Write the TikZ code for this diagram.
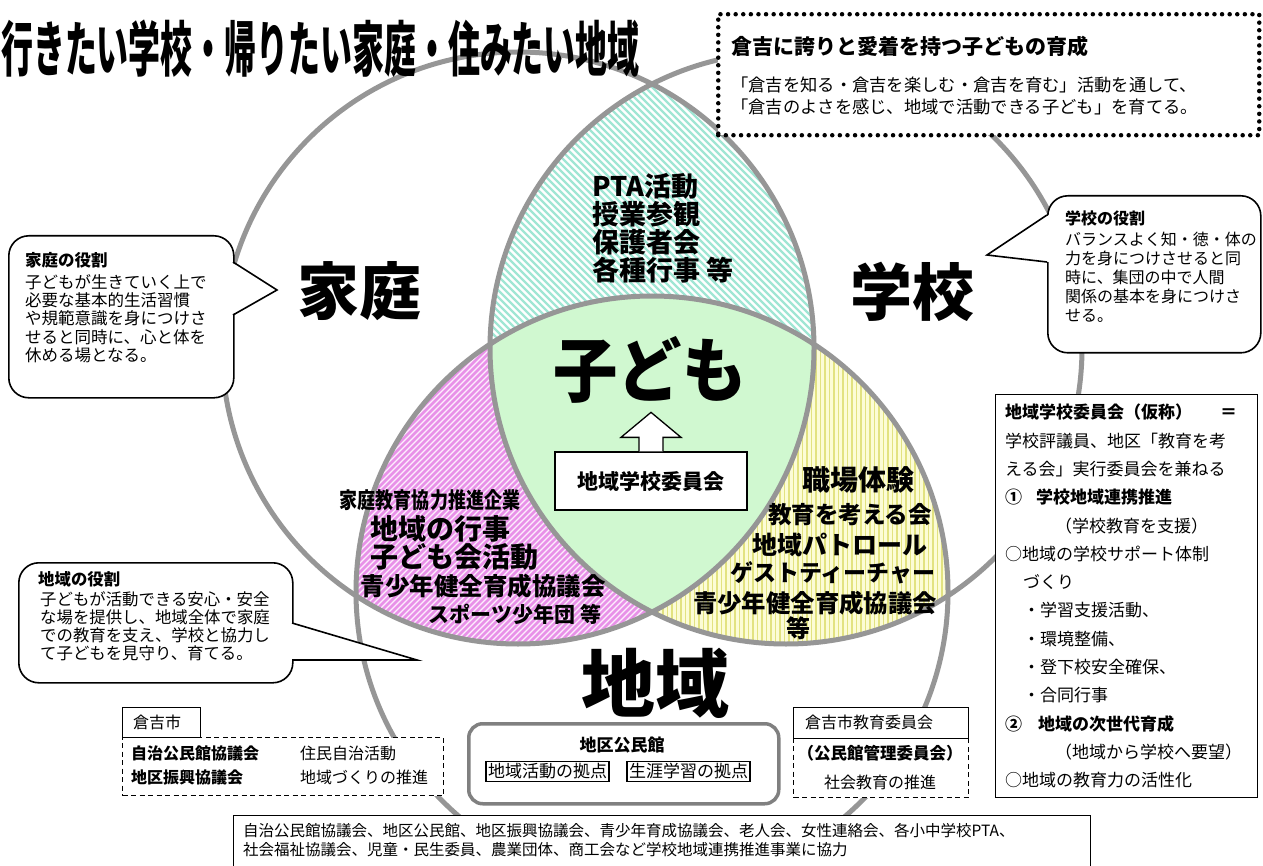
\documentclass[tikz,border=0pt]{standalone}
\usepackage{fontspec}
\usepackage{graphicx}
\setmainfont{Noto Sans CJK JP}
\usetikzlibrary{calc}
\newcommand{\fsz}[2]{\fontsize{#1}{#2}\selectfont}
\definecolor{ringc}{RGB}{150,150,150}
\definecolor{hallc}{RGB}{128,128,128}
\definecolor{topln}{RGB}{160,230,212}
\definecolor{pinkbg}{RGB}{253,238,253}
\definecolor{pinkln}{RGB}{232,145,232}
\definecolor{yelbg}{RGB}{252,252,214}
\definecolor{yelln}{RGB}{226,226,128}
\definecolor{kidc}{RGB}{208,248,208}
\tikzset{
  ring/.style={draw=ringc, line width=5pt},
  bubble/.style={draw=black, line width=1.6pt, fill=white, rounded corners=20pt},
  tailline/.style={draw=black, line width=1.6pt, line join=miter},
  plainbox/.style={draw=black, line width=1.3pt, fill=white},
  dashbox/.style={draw=black, line width=1.3pt, dash pattern=on 5pt off 3.5pt, fill=white},
  dotbox/.style={draw=black, line width=4.5pt, dash pattern=on 0pt off 7.6pt, line cap=round, fill=white},
  hallbox/.style={draw=hallc, line width=3.5pt, rounded corners=14pt, fill=white},
  lt/.style={inner sep=0pt, anchor=west},
  ct/.style={inner sep=0pt},
}
\begin{document}
\begin{tikzpicture}[x=1pt,y=-1pt]
\useasboundingbox (0,0) rectangle (1263,866);
\fill[white] (0,0) rectangle (1263,866);
\clip (0,0) rectangle (1263,866);

% ---------- Venn regions ----------
\begin{scope}
  \clip (518,348) circle[radius=296];
  \clip (786,348) circle[radius=296];
  \fill[white] (400,40) rectangle (900,660);
  \foreach \t in {100,107,...,860} \draw[topln, line width=2.2pt] (\t,60) -- ++(420,420);
\end{scope}
\begin{scope}
  \clip (518,348) circle[radius=296];
  \clip (652,592) circle[radius=296];
  \fill[pinkbg] (300,250) rectangle (700,680);
  \foreach \t in {-40,-34,...,660} \draw[pinkln, line width=2.6pt] (\t,660) -- ++(400,-400);
\end{scope}
\begin{scope}
  \clip (786,348) circle[radius=296];
  \clip (652,592) circle[radius=296];
  \fill[yelbg] (600,250) rectangle (1000,680);
  \foreach \t in {600,604.5,...,1000} \draw[yelln, line width=1.6pt] (\t,250) -- (\t,680);
\end{scope}
\begin{scope}
  \clip (518,348) circle[radius=296];
  \clip (786,348) circle[radius=296];
  \clip (652,592) circle[radius=296];
  \fill[kidc] (400,250) rectangle (900,660);
\end{scope}

% ---------- circles ----------
\draw[ring] (518,348) circle[radius=296];
\draw[ring] (786,348) circle[radius=296];
\draw[ring] (652,592) circle[radius=296];

% ---------- title ----------
\node[lt, font=\fsz{60}{60}\bfseries] (title) at (1,49) {\scalebox{0.532}[1]{行きたい学校・帰りたい家庭・住みたい地域}};

% ---------- goal box ----------
\node[dotbox, minimum width=541pt, minimum height=121pt, anchor=north west] (goal) at (716,12) {};
\node[lt, font=\fsz{21}{21}\bfseries] (goalT) at (731,47) {倉吉に誇りと愛着を持つ子どもの育成};
\node[lt, anchor=north west, align=left, font=\fsz{17.3}{22}] (goalB) at (731,77) {「倉吉を知る・倉吉を楽しむ・倉吉を育む」活動を通して、\\「倉吉のよさを感じ、地域で活動できる子ども」を育てる。};

% ---------- big labels ----------
\node[ct, font=\fsz{62}{62}\bfseries] (home) at (359,291) {家庭};
\node[ct, font=\fsz{62}{62}\bfseries] (school) at (912,292) {学校};
\node[ct, font=\fsz{74}{74}\bfseries] (area) at (655,683) {地域};
\node[ct, font=\fsz{70}{70}\bfseries] (kids) at (650,370) {\scalebox{0.92}[1]{子ども}};

% ---------- region texts ----------
\node[lt, anchor=north west, align=left, font=\fsz{27}{28}\bfseries] (pta) at (592,173) {PTA活動\\授業参観\\保護者会\\各種行事 等};

\node[ct, font=\fsz{22}{22}\bfseries] (p1) at (430,500) {\scalebox{0.82}[1]{家庭教育協力推進企業}};
\node[ct, font=\fsz{28}{28}\bfseries] (p2) at (440,529) {地域の行事};
\node[ct, font=\fsz{28}{28}\bfseries] (p3) at (454,557) {子ども会活動};
\node[ct, font=\fsz{24.5}{24.5}\bfseries] (p4) at (483,586) {青少年健全育成協議会};
\node[ct, font=\fsz{21}{21}\bfseries] (p5) at (515,614) {スポーツ少年団 等};

\node[ct, font=\fsz{28}{28}\bfseries] (y1) at (858,480) {職場体験};
\node[ct, font=\fsz{23.5}{23.5}\bfseries] (y2) at (850,515) {教育を考える会};
\node[ct, font=\fsz{25}{25}\bfseries] (y3) at (840,545) {地域パトロール};
\node[ct, font=\fsz{23}{23}\bfseries] (y4) at (833,573) {ゲストティーチャー};
\node[ct, font=\fsz{24.4}{24.4}\bfseries] (y5) at (815,603) {青少年健全育成協議会};
\node[ct, font=\fsz{24}{24}\bfseries] (y6) at (798,628) {等};

% ---------- committee box + arrow ----------
\node[plainbox, minimum width=192pt, minimum height=58pt, font=\fsz{21}{21}\bfseries] (cmb) at (651,481) {地域学校委員会};
\draw[fill=white, line width=1.3pt, line join=miter]
  ($(cmb.north)+(-12,0)$) -- ++(0,-14) -- ++(-18,0) -- ($(cmb.north)+(0,-39)$)
  -- ($(cmb.north)+(30,-14)$) -- ++(-18,0) -- ($(cmb.north)+(12,0)$);

% ---------- bubble: home ----------
\node[bubble, minimum width=225pt, minimum height=162pt, anchor=north west] (kb) at (8,235) {};
\fill[white] (231,262) -- (277,290) -- (231,315) -- cycle;
\draw[tailline] (233,262) -- (277,290) -- (233,315);
\node[lt, font=\fsz{16.5}{16.5}\bfseries] (kbT) at (25,260) {家庭の役割};
\node[lt, anchor=north west, align=left, font=\fsz{16.5}{18.3}] (kbB) at (25,274) {子どもが生きていく上で\\必要な基本的生活習慣\\や規範意識を身につけさ\\せると同時に、心と体を\\休める場となる。};

% ---------- bubble: school ----------
\node[bubble, minimum width=213pt, minimum height=157pt, anchor=north west] (sb) at (1047,195) {};
\fill[white] (1049,215) -- (987,255) -- (1049,262) -- cycle;
\draw[tailline] (1047,215) -- (987,255) -- (1047,262);
\node[lt, font=\fsz{16}{16}\bfseries] (sbT) at (1065,218) {学校の役割};
\node[lt, anchor=north west, align=left, font=\fsz{16}{19}] (sbB) at (1065,232) {バランスよく知・徳・体の\\力を身につけさせると同\\時に、集団の中で人間\\関係の基本を身につけさ\\せる。};

% ---------- bubble: community ----------
\node[bubble, minimum width=274pt, minimum height=120pt, anchor=north west] (cb) at (18,562) {};
\fill[white] (290,623) -- (417,660) -- (290,660) -- cycle;
\draw[tailline] (292,623) -- (417,660) -- (292,660);
\node[lt, font=\fsz{16.4}{16.4}\bfseries] (cbT) at (38,579) {地域の役割};
\node[lt, anchor=north west, align=left, font=\fsz{16.4}{18.3}] (cbB) at (40,591) {子どもが活動できる安心・安全\\な場を提供し、地域全体で家庭\\での教育を支え、学校と協力し\\て子どもを見守り、育てる。};

% ---------- right committee box ----------
\node[plainbox, minimum width=262pt, minimum height=403pt, anchor=north west] (cm) at (995,394) {};
\node[lt, anchor=north west, align=left, font=\fsz{17}{28.3}] (cmT) at (1005,404) {%
\textbf{地域学校委員会（仮称）}\hspace*{28pt}\textbf{＝}\\
学校評議員、地区「教育を考\\
える会」実行委員会を兼ねる\\
\textbf{①\hspace*{14pt}学校地域連携推進}\\
\hspace*{50pt}（学校教育を支援）\\
○地域の学校サポート体制\\
\hspace*{18pt}づくり\\
\hspace*{18pt}・学習支援活動、\\
\hspace*{18pt}・環境整備、\\
\hspace*{18pt}・登下校安全確保、\\
\hspace*{18pt}・合同行事\\
\textbf{②\hspace*{16pt}地域の次世代育成}\\
\hspace*{50pt}（地域から学校へ要望）\\
○地域の教育力の活性化};

% ---------- Kurayoshi city ----------
\node[dashbox, minimum width=321pt, minimum height=58pt, anchor=north west] (cityd) at (122,737) {};
\node[plainbox, minimum width=78pt, minimum height=30pt, anchor=north west] (city) at (122,707) {};
\node[lt, font=\fsz{16}{16}] (cityT) at (133,722) {倉吉市};
\node[lt, font=\fsz{16}{16}\bfseries] (c1) at (131,753) {自治公民館協議会};
\node[lt, font=\fsz{16}{16}] (c2) at (300,753) {住民自治活動};
\node[lt, font=\fsz{16}{16}\bfseries] (c3) at (131,777) {地区振興協議会};
\node[lt, font=\fsz{16}{16}] (c4) at (300,777) {地域づくりの推進};

% ---------- community hall ----------
\node[hallbox, minimum width=310pt, minimum height=80pt, anchor=north west] (hall) at (467,722) {};
\node[ct, font=\fsz{17}{17}\bfseries] (hallT) at (622,745) {地区公民館};
\node[draw=black, line width=1.2pt, fill=white, inner sep=2pt, font=\fsz{17}{17}] (h1) at (547.5,771.5) {地域活動の拠点};
\node[draw=black, line width=1.2pt, fill=white, inner sep=2pt, font=\fsz{17}{17}] (h2) at (688.5,771.5) {生涯学習の拠点};

% ---------- board of education ----------
\node[dashbox, minimum width=175pt, minimum height=59pt, anchor=north west] (boed) at (793,738) {};
\node[plainbox, minimum width=175pt, minimum height=31pt, anchor=north west] (boe) at (793,707) {};
\node[lt, font=\fsz{16}{16}] (boeT) at (805,722) {倉吉市教育委員会};
\node[ct, font=\fsz{16.5}{16.5}\bfseries] (b1) at (880,753) {（公民館管理委員会）};
\node[ct, font=\fsz{16}{16}] (b2) at (880,782) {社会教育の推進};

% ---------- all-organisations box ----------
\node[plainbox, minimum width=857pt, minimum height=52pt, anchor=north west] (allb) at (233,815) {};
\node[lt, anchor=north west, align=left, font=\fsz{15.5}{19}] (allt) at (243,823) {自治公民館協議会、地区公民館、地区振興協議会、青少年育成協議会、老人会、女性連絡会、各小中学校PTA、\\社会福祉協議会、児童・民生委員、農業団体、商工会など学校地域連携推進事業に協力};
\end{tikzpicture}
\end{document}
